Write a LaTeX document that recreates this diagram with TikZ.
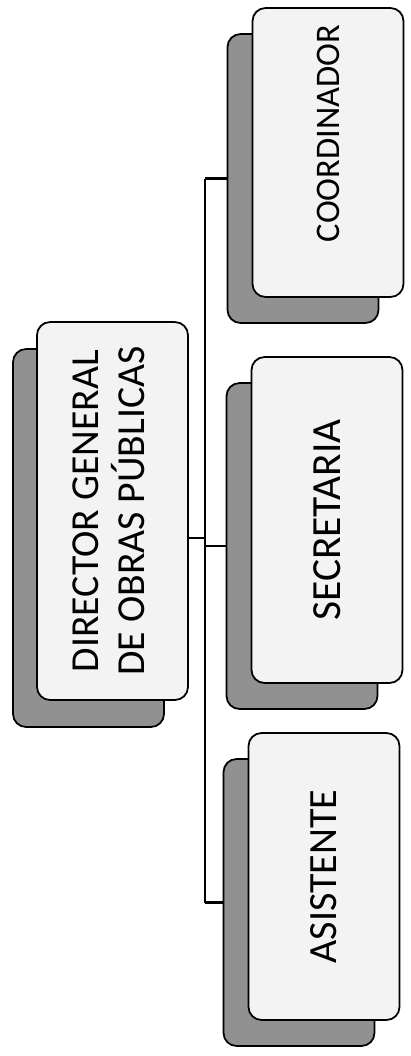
\documentclass[tikz,border=0pt]{standalone}
\usepackage{fontspec}
\setmainfont{Carlito}
\usepackage{tikz}
\usetikzlibrary{positioning,calc,backgrounds}
\definecolor{panelfill}{RGB}{243,243,243}
\definecolor{shadefill}{RGB}{145,145,145}
\newcommand{\vtext}[1]{\rotatebox{90}{#1}}

\begin{document}
\begin{tikzpicture}[
  x=0.02cm, y=-0.02cm,
  front/.style={draw,rounded corners=0.26cm,fill=panelfill,line width=1pt,
                minimum width=3.02cm,inner sep=0pt,align=center},
  back/.style={draw,rounded corners=0.26cm,fill=shadefill,line width=1pt,
               minimum width=3.02cm,inner sep=0pt},
  link/.style={line width=1.5pt},
]
\useasboundingbox (0,0) rectangle (410,1056);

\node[front,minimum height=7.56cm,font=\fontsize{22.6}{25.2}\selectfont] (dir) at (112.5,511)
  {\vtext{\begin{tabular}{@{}c@{}}DIRECTOR GENERAL\\DE OBRAS PÚBLICAS\end{tabular}}};
\node[front,minimum height=5.78cm,font=\fontsize{19.6}{23}\selectfont] (coord) at (328,152.5)
  {\vtext{\hspace*{0.76cm}COORDINADOR}};
\node[front,minimum height=6.52cm,font=\fontsize{23.6}{27}\selectfont] (secr) at (327,520)
  {\vtext{SECRETARIA}};
\node[front,minimum height=5.74cm,font=\fontsize{22.8}{26}\selectfont] (asis) at (324,876.5)
  {\vtext{ASISTENTE}};

\begin{scope}[on background layer]
\node[back,minimum height=7.56cm] (dirback)   at ($(dir)+(-24,27)$)   {};
\node[back,minimum height=5.78cm] (coordback) at ($(coord)+(-25,26)$) {};
\node[back,minimum height=6.52cm] (secrback)  at ($(secr)+(-25,26)$)  {};
\node[back,minimum height=5.74cm] (asisback)  at ($(asis)+(-25,26)$)  {};

\coordinate (bus) at (205,540);
\draw[link] (dirback.east) -- (dirback.east -| bus);
\draw[link] (bus |- coordback.west) -- (bus |- asisback.west);
\draw[link] (bus |- coordback.west) -- (coordback.west);
\draw[link] (bus |- secrback.west)  -- (secrback.west);
\draw[link] (bus |- asisback.west)  -- (asisback.west);
\end{scope}
\end{tikzpicture}
\end{document}
